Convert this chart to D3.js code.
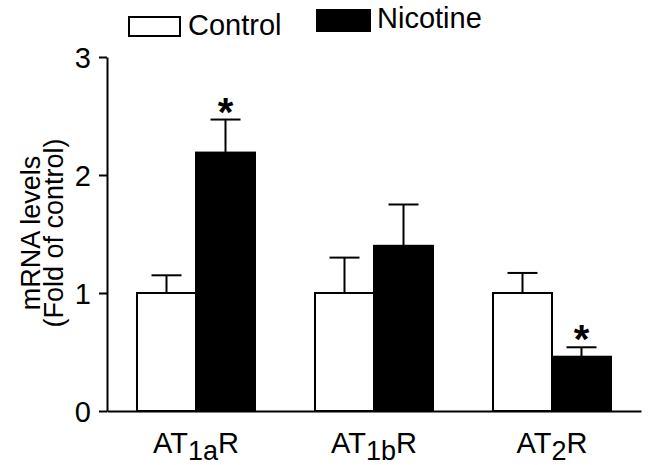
<!DOCTYPE html>
<html>
<head>
<meta charset="utf-8">
<script src="https://cdn.jsdelivr.net/npm/d3@7"></script>
<style>
  body { margin: 0; background: #fff; }
  text { font-family: "Liberation Sans", Arial, sans-serif; fill: #000; }
</style>
</head>
<body>
<svg id="chart" width="648" height="465"></svg>
<script>
// receptor groups, label parts (main text + subscript)
const groups = ["AT1aR", "AT1bR", "AT2R"];
const labelMain = ["AT", "AT", "AT"];
const labelSub = ["1a", "1b", "2"];
const labelEnd = ["R", "R", "R"];

const seriesNames = ["Control", "Nicotine"];
const controlMean = [1.0, 1.0, 1.0];
const controlErr = [0.15, 0.30, 0.17];
const nicotineMean = [2.19, 1.40, 0.46];
const nicotineErr = [0.28, 0.35, 0.08];
const significant = [true, false, true];

const yTicks = [0, 1, 2, 3];

const svg = d3.select("#chart");

const x0 = d3.scaleBand()
  .domain(groups)
  .range([107, 641])
  .paddingInner(0.337)
  .paddingOuter(0.1685);

const x1 = d3.scaleBand()
  .domain(seriesNames)
  .range([0, x0.bandwidth()]);

const y = d3.scaleLinear().domain([0, 3]).range([411, 57]);

const fills = { Control: "#fff", Nicotine: "#000" };

// flatten into bar records
const bars = [];
groups.forEach((g, i) => {
  bars.push({ group: g, series: "Control", value: controlMean[i], err: controlErr[i], star: false });
  bars.push({ group: g, series: "Nicotine", value: nicotineMean[i], err: nicotineErr[i], star: significant[i] });
});

const cx = (d) => x0(d.group) + x1(d.series) + x1.bandwidth() / 2;

const barG = svg.append("g");

// error bars first (upward only)
const errG = barG.selectAll(".err")
  .data(bars)
  .enter()
  .append("g")
  .attr("class", "err");

errG.append("line")
  .attr("x1", cx)
  .attr("x2", cx)
  .attr("y1", (d) => y(d.value))
  .attr("y2", (d) => y(d.value + d.err))
  .attr("stroke", "#000")
  .attr("stroke-width", 2);

errG.append("line")
  .attr("x1", (d) => cx(d) - 15)
  .attr("x2", (d) => cx(d) + 15)
  .attr("y1", (d) => y(d.value + d.err))
  .attr("y2", (d) => y(d.value + d.err))
  .attr("stroke", "#000")
  .attr("stroke-width", 2);

barG.selectAll("rect")
  .data(bars)
  .enter()
  .append("rect")
  .attr("x", (d) => x0(d.group) + x1(d.series))
  .attr("y", (d) => y(d.value))
  .attr("width", x1.bandwidth())
  .attr("height", (d) => y(0) - y(d.value))
  .attr("fill", (d) => fills[d.series])
  .attr("stroke", "#000")
  .attr("stroke-width", 2);

// significance stars
barG.selectAll(".star")
  .data(bars.filter((d) => d.star))
  .enter()
  .append("text")
  .attr("class", "star")
  .attr("x", cx)
  .attr("y", (d) => y(d.value + d.err) + 6)
  .attr("text-anchor", "middle")
  .style("font-size", "40px")
  .style("font-weight", "bold")
  .text("*");

// y axis
const yAxis = svg.append("g")
  .attr("transform", "translate(107,0)")
  .call(d3.axisLeft(y).tickValues(yTicks).tickFormat(d3.format("d"))
    .tickSize(8).tickSizeOuter(0).tickPadding(8));
yAxis.select(".domain").attr("stroke-width", 2);
yAxis.selectAll(".tick line").attr("stroke-width", 2);
yAxis.selectAll(".tick text")
  .style("font-size", "29px")
  .style("font-family", "'Liberation Sans', Arial, sans-serif")
  .attr("dy", "0.36em");

// x axis: baseline only, labels with subscripts
const xAxis = svg.append("g")
  .attr("transform", "translate(0,411)")
  .call(d3.axisBottom(x0).tickSize(0).tickSizeOuter(0).tickFormat(""));
xAxis.select(".domain").attr("stroke-width", 2);

const xLabels = svg.selectAll(".xlabel")
  .data(groups)
  .enter()
  .append("text")
  .attr("class", "xlabel")
  .attr("x", (d) => x0(d) + x0.bandwidth() / 2)
  .attr("y", 453)
  .attr("text-anchor", "middle")
  .style("font-size", "29px");
xLabels.append("tspan").text((d, i) => labelMain[i]);
xLabels.append("tspan").attr("dy", 7).style("font-size", "27px").text((d, i) => labelSub[i]);
xLabels.append("tspan").attr("dy", -7).text((d, i) => labelEnd[i]);

// y axis title
const yTitle = svg.append("text")
  .attr("transform", "translate(40,233) rotate(-90)")
  .attr("text-anchor", "middle")
  .style("font-size", "27px");
yTitle.append("tspan").attr("x", 0).attr("y", 0).text("mRNA levels");
yTitle.append("tspan").attr("x", 0).attr("y", 23).text("(Fold of control)");

// legend
const legendItems = [
  { name: "Control", x: 129, y: 17, w: 51, h: 19, tx: 188, ty: 35 },
  { name: "Nicotine", x: 317, y: 10, w: 53, h: 21, tx: 377, ty: 28 }
];
const legend = svg.selectAll(".legend")
  .data(legendItems)
  .enter()
  .append("g")
  .attr("class", "legend");
legend.append("rect")
  .attr("x", (d) => d.x)
  .attr("y", (d) => d.y)
  .attr("width", (d) => d.w)
  .attr("height", (d) => d.h)
  .attr("fill", (d) => fills[d.name])
  .attr("stroke", "#000")
  .attr("stroke-width", 2);
legend.append("text")
  .attr("x", (d) => d.tx)
  .attr("y", (d) => d.ty)
  .style("font-size", "29px")
  .text((d) => d.name);
</script>
</body>
</html>
